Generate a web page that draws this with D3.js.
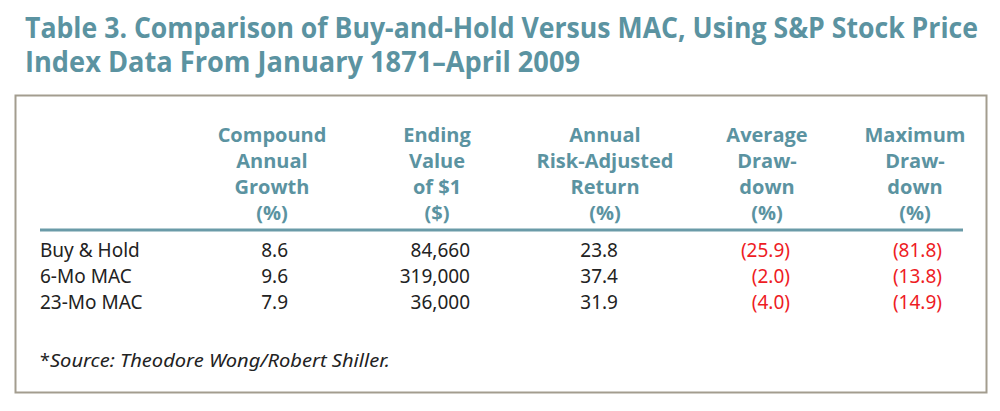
<!DOCTYPE html>
<html>
<head>
<meta charset="utf-8">
<script src="https://cdn.jsdelivr.net/npm/d3@7"></script>
<style>
  body { margin: 0; background: #fff; }
  svg { display: block; }
</style>
</head>
<body>
<div id="chart"></div>
<script>
// table values
var titleLines = ["Table 3. Comparison of Buy-and-Hold Versus MAC,  Using S&P Stock Price",
                  "Index Data From January 1871\u2013April 2009"];
var rowLabels = ["Buy & Hold", "6-Mo MAC", "23-Mo MAC"];
var compound = [8.6, 9.6, 7.9];
var endingValue = [84660, 319000, 36000];
var riskAdjusted = [23.8, 37.4, 31.9];
var avgDrawdown = [-25.9, -2.0, -4.0];
var maxDrawdown = [-81.8, -13.8, -14.9];
var headers = [
  ["Compound", "Annual", "Growth", "(%)"],
  ["Ending", "Value", "of $1", "($)"],
  ["Annual", "Risk-Adjusted", "Return", "(%)"],
  ["Average", "Draw-", "down", "(%)"],
  ["Maximum", "Draw-", "down", "(%)"]
];
var footnote = "Source: Theodore Wong/Robert Shiller.";

var W = 1000, H = 411;
var teal = "#5b93a1";

var svg = d3.select('#chart')
  .append('svg')
  .attr('width', W)
  .attr('height', H);

// title
svg.selectAll('text.title')
  .data(titleLines)
  .enter().append('text')
  .attr('class', 'title')
  .attr('x', 25)
  .attr('y', (d, i) => 38 + i * 34)
  .attr('fill', teal)
  .attr('font-family', 'Open Sans, sans-serif')
  .attr('font-weight', 'bold')
  .attr('font-size', 28)
  .attr('textLength', (d, i) => i == 0 ? 953 : 555)
  .attr('lengthAdjust', 'spacingAndGlyphs')
  .text(d => d);

// box
svg.append('rect')
  .attr('x', 15.5)
  .attr('y', 95.5)
  .attr('width', 971)
  .attr('height', 297)
  .attr('fill', '#fff')
  .attr('stroke', '#a39d8f')
  .attr('stroke-width', 2);

// columns
var colIds = d3.range(headers.length);
var colCenter = d3.scaleOrdinal().domain(colIds).range([272, 437, 605, 767, 915]);
var colRight = d3.scaleOrdinal().domain(colIds).range([288, 470, 618, 790, 942]);

// header lines
var hy = d3.scaleLinear().domain([0, 3]).range([142, 220]);

var hg = svg.selectAll('g.head')
  .data(headers)
  .enter().append('g')
  .attr('class', 'head');

hg.selectAll('text')
  .data((d, i) => d.map(t => ({t: t, c: i})))
  .enter().append('text')
  .attr('x', d => colCenter(d.c))
  .attr('y', (d, j) => hy(j))
  .attr('text-anchor', 'middle')
  .attr('fill', teal)
  .attr('font-family', 'Open Sans, sans-serif')
  .attr('font-weight', 'bold')
  .attr('font-size', 20)
  .text(d => d.t);

// rule under header
svg.append('line')
  .attr('x1', 40)
  .attr('x2', 963)
  .attr('y1', 230)
  .attr('y2', 230)
  .attr('stroke', '#6a9ba8')
  .attr('stroke-width', 3);

// rows
var y = d3.scaleBand()
  .domain(rowLabels)
  .range([236, 314]);

var f1 = d3.format('.1f');
var fc = d3.format(',');
function neg(v) { return v < 0 ? '(' + f1(-v) + ')' : f1(v); }

var columns = [
  compound.map(v => ({txt: f1(v), red: false})),
  endingValue.map(v => ({txt: fc(v), red: false})),
  riskAdjusted.map(v => ({txt: f1(v), red: false})),
  avgDrawdown.map(v => ({txt: neg(v), red: v < 0})),
  maxDrawdown.map(v => ({txt: neg(v), red: v < 0}))
];

var bodyFont = 'Noto Sans, sans-serif';

svg.selectAll('text.rowlabel')
  .data(rowLabels)
  .enter().append('text')
  .attr('class', 'rowlabel')
  .attr('x', 40)
  .attr('y', d => y(d) + 21)
  .attr('fill', '#222')
  .attr('font-family', bodyFont)
  .attr('font-size', 19)
  .text(d => d);

columns.forEach((col, ci) => {
  svg.selectAll('text.c' + ci)
    .data(col)
    .enter().append('text')
    .attr('class', 'c' + ci)
    .attr('x', colRight(ci))
    .attr('y', (d, i) => y(rowLabels[i]) + 21)
    .attr('text-anchor', 'end')
    .attr('fill', d => d.red ? '#ee1c24' : '#222')
    .attr('font-family', bodyFont)
    .attr('font-size', 19)
    .text(d => d.txt);
});

// footnote
var fn = svg.append('text')
  .attr('x', 40)
  .attr('y', 367)
  .attr('fill', '#222')
  .attr('font-family', bodyFont)
  .attr('font-size', 18);
fn.append('tspan').text('*');
fn.append('tspan')
  .attr('font-style', 'italic')
  .attr('textLength', 340)
  .attr('lengthAdjust', 'spacingAndGlyphs')
  .text(footnote);
</script>
</body>
</html>
